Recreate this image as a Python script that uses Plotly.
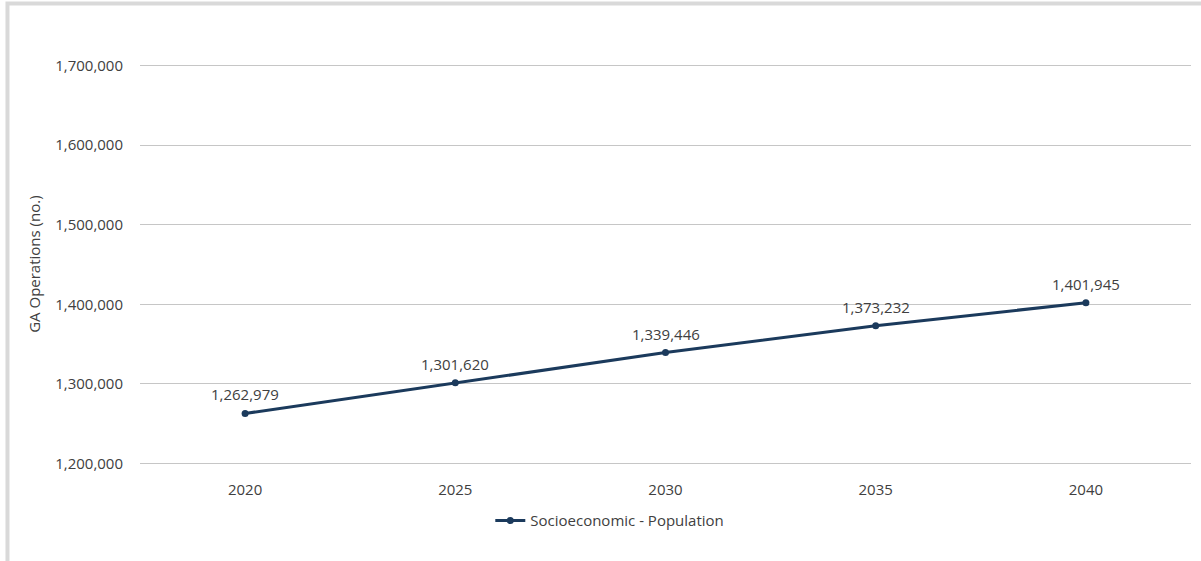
import plotly.graph_objects as go

# Forecast of general aviation operations (socioeconomic - population scenario)
years = ["2020", "2025", "2030", "2035", "2040"]
operations = [1262979, 1301620, 1339446, 1373232, 1401945]
y_ticks = [1200000, 1300000, 1400000, 1500000, 1600000, 1700000]
series_name = "Socioeconomic - Population"
y_title = "GA Operations (no.)"

LINE_COLOR = "#1b3a5c"
TEXT_COLOR = "#404040"
GRID_COLOR = "#c6c6c6"
FONT = "Open Sans"
FSIZE = 15

fig = go.Figure()
fig.add_trace(go.Scatter(
    x=years, y=operations, name=series_name,
    mode="lines+markers",
    line=dict(color=LINE_COLOR, width=3),
    marker=dict(color=LINE_COLOR, size=7),
))

# value labels above each point (category axis positions by index)
for i, v in enumerate(operations):
    fig.add_annotation(
        x=i, y=v, xref="x", yref="y", text=f"{v:,}", showarrow=False, yshift=19,
        font=dict(family=FONT, size=FSIZE, color=TEXT_COLOR),
    )

# rotated y-axis title
fig.add_annotation(
    xref="paper", yref="paper", x=-0.1015, y=0.5, text=y_title,
    textangle=-90, showarrow=False, xanchor="center", yanchor="middle",
    font=dict(family=FONT, size=FSIZE, color=TEXT_COLOR),
)

# light grey frame around the chart
fig.add_shape(
    type="rect", xref="paper", yref="paper",
    x0=-0.1261, x1=1.2, y0=-0.5, y1=1.1476,
    line=dict(color="#d9d9d9", width=4), fillcolor="rgba(0,0,0,0)", layer="below",
)

fig.update_layout(
    width=1201, height=561,
    margin=dict(l=140, r=10, t=63, b=95),
    paper_bgcolor="white", plot_bgcolor="white",
    font=dict(family=FONT, size=FSIZE, color=TEXT_COLOR),
    showlegend=True,
    legend=dict(
        orientation="h", x=0.447, xanchor="center", y=-0.136, yanchor="middle",
        font=dict(family=FONT, size=FSIZE, color=TEXT_COLOR),
        itemwidth=30, bgcolor="rgba(0,0,0,0)",
    ),
    xaxis=dict(
        type="category", range=[-0.5, 4.5],
        showgrid=False, zeroline=False, showline=False,
        ticks="", ticklabelstandoff=13,
        tickfont=dict(family=FONT, size=FSIZE, color=TEXT_COLOR),
    ),
    yaxis=dict(
        range=[1197000, 1703000], tickvals=y_ticks,
        ticktext=[f"{t:,}" for t in y_ticks],
        showgrid=True, gridcolor=GRID_COLOR, gridwidth=1,
        zeroline=False, showline=False, ticks="", ticklabelstandoff=16,
        tickfont=dict(family=FONT, size=FSIZE, color=TEXT_COLOR),
    ),
)

fig.write_html("out.html")
